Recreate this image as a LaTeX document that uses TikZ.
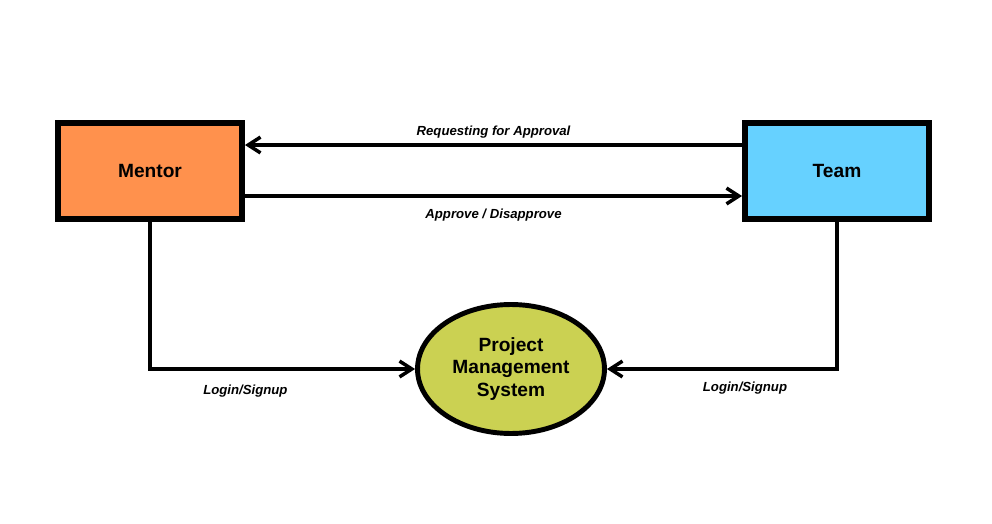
\documentclass[tikz,border=0pt]{standalone}
\usepackage{fontspec}
\setmainfont{Liberation Sans}
\usetikzlibrary{arrows.meta,shapes.geometric}
\definecolor{mentorfill}{HTML}{FF914D}
\definecolor{teamfill}{HTML}{66D1FF}
\definecolor{pmsfill}{HTML}{CBD152}

\tikzset{
	entity/.style={draw,line width=3.4pt,minimum width=3.68cm,minimum height=1.92cm,font=\bfseries\fontsize{10.9}{13}\selectfont},
	process/.style={draw,ellipse,line width=2.8pt,minimum width=3.74cm,minimum height=2.58cm,align=center,font=\bfseries\fontsize{10.9}{13}\selectfont},
	flow/.style={line width=1.9pt,-{Straight Barb[length=7pt,width=9pt,line width=2pt]}},
	flowlabel/.style={font=\bfseries\itshape\fontsize{7.5}{9}\selectfont}
}

\begin{document}
\begin{tikzpicture}[x=0.02cm,y=-0.02cm]
		\useasboundingbox (0,0) rectangle (992,524);
		\node[entity,fill=mentorfill] (mentor) at (150,171) {Mentor};
		\node[entity,fill=teamfill] (team) at (837,171) {Team};
		\node[process,fill=pmsfill] (pms) at (511,369) {Project\\Management\\System};
		% mentor <-> team
		\draw[flow] ([yshift=0.52cm]team.west) -- ([yshift=0.52cm]mentor.east)
			node[flowlabel,midway,above=-0.5pt] {Requesting for Approval};
		\draw[flow] ([yshift=-0.5cm]mentor.east) -- ([yshift=-0.5cm]team.west)
			node[flowlabel,midway,below=3pt] {Approve / Disapprove};
		% login
		\draw[flow] (mentor.south) |- (pms.west)
			node[flowlabel,pos=0.68,below=5pt] {Login/Signup};
		\draw[flow] (team.south) |- (pms.east)
			node[flowlabel,pos=0.70,below=3pt] {Login/Signup};
	\end{tikzpicture}
\end{document}
